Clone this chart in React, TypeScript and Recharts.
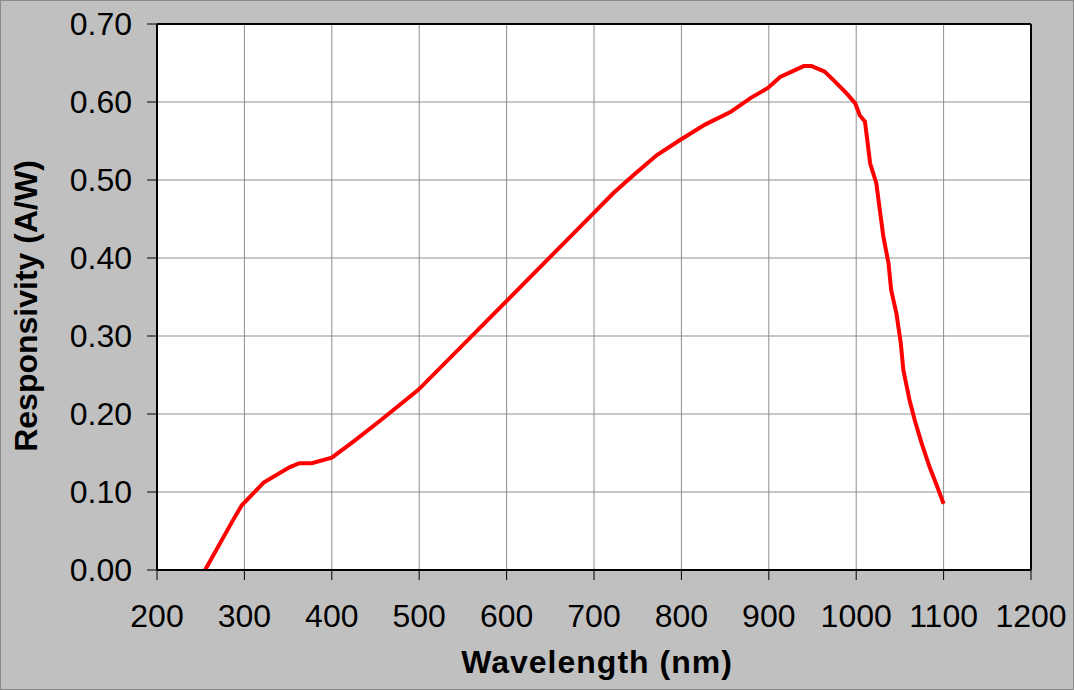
import React from 'react';
import {
  LineChart,
  Line,
  XAxis,
  YAxis,
  CartesianGrid,
  ReferenceLine,
} from 'recharts';

// wavelength (nm) and responsivity (A/W)
const wavelengths = [
  255, 286, 297, 322, 352, 363, 377, 400, 425, 457,
  499, 601, 699, 722, 745, 772, 798, 827, 856, 879,
  899, 913, 940, 949, 964, 974, 989, 999, 1004, 1010,
  1016, 1023, 1027, 1031, 1037, 1040, 1046, 1051, 1054, 1061,
  1067, 1075, 1084, 1092, 1100,
];
const responsivity = [
  0, 0.062, 0.083, 0.112, 0.132, 0.137, 0.137, 0.144, 0.165, 0.193,
  0.231, 0.346, 0.457, 0.483, 0.506, 0.532, 0.551, 0.571, 0.587, 0.605,
  0.618, 0.632, 0.646, 0.646, 0.639, 0.628, 0.611, 0.598, 0.583, 0.575,
  0.521, 0.496, 0.462, 0.428, 0.393, 0.359, 0.329, 0.291, 0.256, 0.218,
  0.192, 0.162, 0.132, 0.109, 0.085,
];
const xTicks = [200, 300, 400, 500, 600, 700, 800, 900, 1000, 1100, 1200];
const yTicks = [0, 0.1, 0.2, 0.3, 0.4, 0.5, 0.6, 0.7];

const data = wavelengths.map((w, i) => ({ wl: w, r: responsivity[i] }));

const font = '"Liberation Sans", Arial, sans-serif';
const tickStyle = { fontSize: 32, fill: '#000', fontFamily: font };

export default function App() {
  return (
    <div style={{ position: 'relative', width: 1074, height: 690, background: '#c0c0c0' }}>
      <style>{`body{margin:0}`}</style>
      <LineChart
        width={1074}
        height={690}
        data={data}
        margin={{ top: 24, right: 43, left: 0, bottom: 0 }}
      >
        <CartesianGrid stroke="#8f8f8f" fill="#ffffff" />
        <XAxis
          dataKey="wl"
          type="number"
          domain={[200, 1200]}
          ticks={xTicks}
          interval={0}
          height={120}
          tick={tickStyle}
          tickSize={10}
          tickMargin={24}
          axisLine={{ stroke: '#000', strokeWidth: 2 }}
          tickLine={{ stroke: '#000' }}
          label={{
            value: 'Wavelength (nm)',
            position: 'insideBottom',
            offset: 17,
            dx: 3,
            style: { fontSize: 32, fontWeight: 'bold', fill: '#000', fontFamily: font, letterSpacing: 1 },
          }}
        />
        <YAxis
          type="number"
          domain={[0, 0.7]}
          ticks={yTicks}
          interval={0}
          width={157}
          tick={tickStyle}
          tickSize={10}
          tickMargin={15}
          tickFormatter={(v: number) => v.toFixed(2)}
          axisLine={{ stroke: '#000', strokeWidth: 2 }}
          tickLine={{ stroke: '#000' }}
          label={{
            content: () => (
              <text
                x={37}
                y={306}
                transform="rotate(-90 37 306)"
                textAnchor="middle"
                fontSize={32}
                fontWeight="bold"
                fontFamily={font}
                fill="#000"
              >
                Responsivity (A/W)
              </text>
            ),
          }}
        />
        <ReferenceLine y={0.7} stroke="#000" strokeWidth={2} />
        <ReferenceLine x={1200} stroke="#000" strokeWidth={2} />
        <Line
          type="linear"
          dataKey="r"
          stroke="#ff0000"
          strokeWidth={4}
          dot={false}
          activeDot={false}
          isAnimationActive={false}
        />
      </LineChart>
      <div
        style={{
          position: 'absolute',
          inset: 0,
          border: '1px solid #8a8a8a',
          pointerEvents: 'none',
        }}
      />
    </div>
  );
}
